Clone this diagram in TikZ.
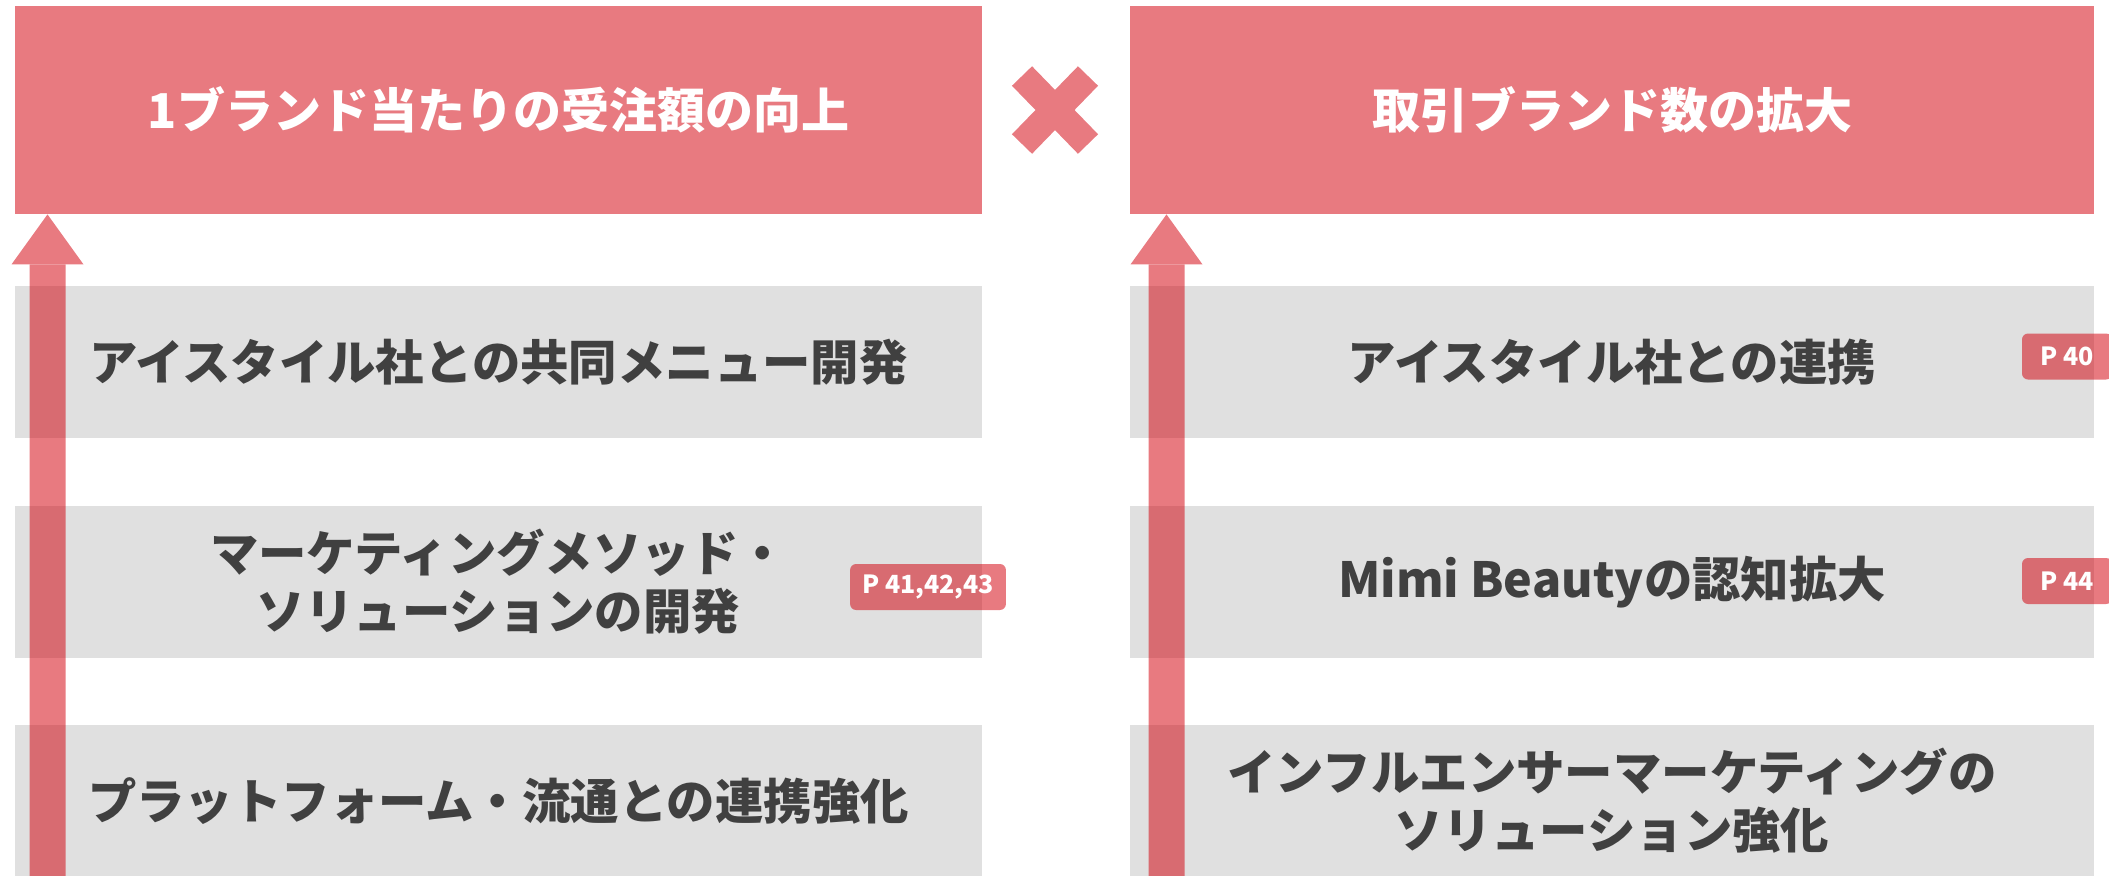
\documentclass[tikz,border=0pt]{standalone}
\usepackage{fontspec}
\setmainfont{Noto Sans CJK JP}
\usetikzlibrary{arrows.meta}
\definecolor{rosered}{RGB}{210,0,12}
\definecolor{crossred}{RGB}{232,122,128}
\definecolor{boxgray}{RGB}{224,224,224}
\definecolor{inkgray}{RGB}{64,64,64}
\begin{document}
\begin{tikzpicture}[x=0.5pt, y=-0.5pt,
  goal/.style={rectangle, fill=rosered, fill opacity=0.52, text opacity=1, text=white, font=\fontsize{24}{29}\selectfont\bfseries, minimum height=104pt, inner sep=0pt},
  item/.style={rectangle, fill=boxgray, text=inkgray, font=\fontsize{24.2}{29}\selectfont\bfseries, align=center, minimum height=76pt, inner sep=0pt},
  pagetag/.style={rectangle, rounded corners=3pt, fill=rosered, fill opacity=0.52, text opacity=1, text=white, font=\fontsize{12.5}{14}\selectfont\bfseries, minimum height=23pt, minimum width=45pt, inner xsep=6pt, inner ysep=0pt},
  rise/.style={rosered, line width=18pt, -{Triangle[length=25pt, width=36pt, line width=0pt]}}]
\useasboundingbox (0,0) rectangle (2109,875);
\clip (0,0) rectangle (2109,875);

\node[goal, minimum width=483.5pt] (goalL) at (498.5,110){1ブランド当たりの受注額の向上};
\node[goal, minimum width=482pt] (goalR) at (1612,110){取引ブランド数の拡大};

\node[item, minimum width=483.5pt] (itemL1) at (498.5,362){アイスタイル社との共同メニュー開発};
\node[item, minimum width=483.5pt] (itemL2) at (498.5,582){マーケティングメソッド・\\ソリューションの開発};
\node[item, minimum width=483.5pt] (itemL3) at (498.5,801){プラットフォーム・流通との連携強化};
\node[item, minimum width=482pt] (itemR1) at (1612,362){アイスタイル社との連携};
\node[item, minimum width=482pt] (itemR2) at (1612,582){Mimi Beautyの認知拡大};
\node[item, minimum width=482pt] (itemR3) at (1612,801){インフルエンサーマーケティングの\\ソリューション強化};

% cross between the two goals
\draw[crossred, line width=14pt] (1022,76) -- (1088,144) (1088,76) -- (1022,144);

% rising arrows
\coordinate (footL) at (47.5,900);
\coordinate (footR) at (1166.5,900);
\begin{scope}[transparency group, opacity=0.52]
\draw[rise] (footL) -- (goalL.south -| footL);
\end{scope}
\begin{scope}[transparency group, opacity=0.52]
\draw[rise] (footR) -- (goalR.south -| footR);
\end{scope}

\node[pagetag] (tagL2) at (928,587){P 41,42,43};
\node[pagetag] (tagR1) at (2067,356.5){P 40};
\node[pagetag] (tagR2) at (2067,581){P 44};

\end{tikzpicture}
\end{document}
